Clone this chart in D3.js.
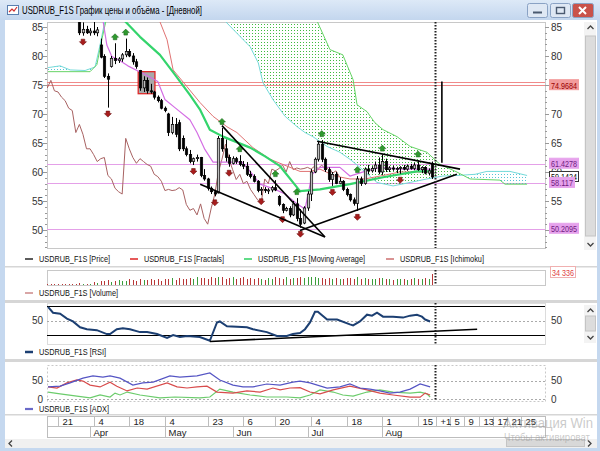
<!DOCTYPE html>
<html>
<head>
<meta charset="utf-8">
<style>
body { margin: 0; background: #fff; }
svg { display: block; font-family: "Liberation Sans", Arial, sans-serif; }
</style>
<script src="https://cdn.jsdelivr.net/npm/d3@7"></script>
</head>
<body>
<svg width="600" height="451"></svg>
<script>

// ---- data (bar index 0 = 14 Mar 2022, daily trading bars) ----
var firstBar = 11;
var ohlc = [
  [86.0,87.0,83.6,84.0],[84.0,85.8,83.5,84.6],[84.6,85.2,83.8,84.0],[84.0,84.8,83.5,84.3],[84.3,86.5,83.6,84.0],
  [84.0,85.0,83.4,84.5],[81.9,83.0,79.6,79.8],[79.9,80.3,76.2,76.5],[76.5,77.0,71.1,76.0],[78.2,80.0,78.0,79.6],
  [79.6,82.2,78.6,79.2],[79.2,79.8,78.8,79.5],[79.5,80.5,79.0,80.2],[80.2,83.0,79.8,80.8],[80.8,81.2,79.8,80.0],
  [80.0,80.5,78.5,79.0],[79.0,79.5,77.8,78.2],[77.5,77.6,74.0,74.5],[74.5,76.5,73.8,75.8],[75.8,76.3,73.5,74.0],
  [74.0,75.2,73.5,73.8],[73.8,74.0,72.5,72.9],[72.9,73.2,72.0,72.3],[72.3,72.6,70.8,71.0],[71.0,71.3,70.3,70.6],
  [70.0,70.2,66.2,66.8],[66.8,69.5,66.5,68.2],[68.2,69.3,66.0,66.5],[68.5,69.0,63.6,64.0],[65.8,66.3,63.6,64.0],
  [64.0,64.4,62.7,63.0],[63.0,63.8,61.5,61.8],[61.8,62.5,61.2,62.3],[62.3,63.0,61.8,62.5],[62.5,62.6,59.1,59.4],
  [59.4,60.5,58.5,58.8],[58.8,59.0,56.8,57.2],[57.2,57.5,56.2,56.6],[56.6,56.9,55.8,56.2],[56.4,66.2,56.3,65.8],
  [65.8,67.6,63.5,64.0],[64.0,65.6,61.8,62.5],[62.5,63.0,60.9,61.5],[61.5,62.7,61.3,62.3],[62.3,62.6,61.4,61.8],
  [61.8,62.9,61.0,61.3],[61.3,61.9,60.5,61.0],[61.0,61.7,59.3,59.6],[59.6,60.2,58.9,59.2],[59.2,59.6,58.2,58.4],
  [58.4,58.6,56.5,56.8],[56.8,57.4,56.0,57.0],[57.0,57.4,56.4,56.8],[56.8,57.2,56.2,56.9],[56.9,57.6,56.5,57.3],
  [57.3,58.6,56.7,56.9],[55.8,56.0,54.1,54.4],[54.4,54.6,52.9,53.4],[53.4,54.0,53.2,53.7],[53.7,54.1,52.2,52.6],
  [52.6,55.0,52.4,54.5],[54.5,55.5,51.5,52.0],[52.0,53.6,50.4,51.0],[51.2,54.1,51.0,53.8],[53.8,56.7,53.3,56.2],
  [56.2,60.5,55.0,60.0],[60.0,62.5,59.8,62.2],[62.2,65.3,61.8,64.8],[64.8,65.5,61.7,62.2],[62.2,62.5,60.0,60.4],
  [60.4,60.8,58.3,58.7],[58.7,60.0,57.6,59.6],[59.6,60.0,57.9,58.0],[58.0,59.1,57.9,58.4],[58.4,58.6,56.7,57.0],
  [57.0,57.3,55.8,56.1],[56.1,56.3,54.9,55.2],[55.2,55.6,54.2,54.6],[54.6,59.3,53.3,58.8],[58.8,59.2,57.6,58.0],
  [58.0,60.8,57.8,60.5],[60.5,61.2,59.6,60.2],[60.2,61.0,59.9,60.6],[60.6,61.8,60.0,61.2],[61.2,62.5,59.6,60.0],
  [60.0,63.0,59.5,61.8],[61.8,62.3,60.0,60.4],[60.4,61.0,60.0,60.7],[60.7,61.1,60.2,60.5],[60.5,60.9,59.8,60.6],
  [60.6,61.0,59.7,60.8],[60.8,61.2,60.3,60.5],[60.5,61.3,60.2,61.0],[61.0,61.4,60.4,60.6],[60.6,61.6,60.3,61.2],
  [61.2,62.0,60.2,60.4],[60.4,61.0,59.8,60.8],[60.8,61.0,59.6,59.8],[59.8,60.6,59.4,60.2],[61.4,61.8,58.8,59.14]
];
var fractalUp = [21, 24, 51, 56, 66, 72, 79, 89, 96, 106];
var fractalDown = [12, 19, 43, 49, 53, 62, 68, 73, 82, 89, 101];

var maLine = [[23.8,86.0],[28,83.3],[33.6,80.2],[37.8,76.8],[42,73.3],[44.8,70.8],[47.6,67.3],[51.3,66.1],
  [58.9,64.2],[63.1,62.7],[67.3,61.0],[72.9,56.7],[78.5,57.0],[86.9,57.9],[96.2,59.1],[105.7,60.1],[110,60.1]];
var tenkan = [[17.6,86.2],[18.7,81.9],[20.1,79.9],[22.4,79.2],[24.6,78.3],[29.4,76.8],[33,75.6],[35,72.5],
  [37.8,71.1],[42,69.0],[44,66.8],[46.2,63.9],[48.5,61.7],[56.6,61.7],[58.9,60.1],[61.7,57.9],[65.9,57.0],
  [68.7,56.2],[72.1,54.5],[74.3,53.6],[76.3,59.6],[78.5,60.8],[84.1,60.8],[86.9,59.3],[91.1,60.1],[95.3,60.8],
  [100.9,60.5],[110,60.5]];
var kijun = [[31,88.5],[33.6,85.9],[35.6,82.8],[37.3,77.6],[41.2,74.7],[44.8,72.0],[48.5,69.6],[52.4,67.8],
  [55.2,66.8],[59.7,64.2],[64.5,62.2],[68.1,61.3],[72.9,60.1],[75.7,60.1],[78.5,60.5],[82.7,59.3],[86.9,58.8],
  [91.1,58.8],[96.2,59.4],[100.9,60.0],[110,60.0]];
var senkouA = [[2.2,77.3],[14,77.3],[15.9,78.5],[17.3,82.8],[18.5,86.2],[22,92],[70,92],[77.7,86.0],[81.3,81.1],
  [84.9,80.2],[87.8,75.9],[88.9,71.6],[91.7,70.4],[93.9,68.5],[96.2,67.3],[100.1,66.1],[103.8,64.4],[108.5,63.4],
  [112.2,61.3],[116.9,60.0],[120.6,58.8],[129,58.6],[130.4,57.9],[136.6,57.9]];
var senkouB = [[2.2,78.0],[5.6,78.3],[8.4,77.6],[12.6,77.5],[15.4,78.1],[16.8,81.9],[18.2,86.2],[20,90],[48,90],
  [51.9,86.0],[58.9,81.6],[61.2,78.8],[62.5,75.4],[65.3,72.5],[68.7,69.6],[72.1,67.8],[74.3,66.8],[76.5,66.1],
  [80.5,64.4],[84.1,63.4],[86.9,62.2],[89.7,60.8],[94.5,58.2],[99,57.6],[103.8,58.2],[108.5,58.8],[113,59.3],
  [116.9,59.4],[122,59.6],[125.3,60.1],[131.8,60.1],[136.6,59.4]];

var volFirst = 2;
var volume = [2100,1800,2400,1900,2200,2600,1700,2300,3000,
  6500,3100,4200,3300,9400,4800,11200,13500,15100,10600,
  12400,16200,11800,14000,17500,15200,12900,18400,16800,14100,
  19200,15500,17800,13200,20100,18700,21300,16400,22800,19600,
  17200,21900,18500,24000,20300,22600,19100,25100,21400,26300,
  23800,19700,22400,24900,18600,21700,25400,20200,23100,19400,
  22900,17600,16300,20800,18200,23500,21000,19800,24200,17900,
  20600,22300,25800,21100,23900,26200,24400,20700,22000,19300,
  21800,18400,20900,17700,19600,22500,20300,18100,23700,19000,
  21200,17400,19900,18600,20400,22100,17900,19200,16800,18500,
  17300,19800,16600,18900,20700,17500,19400,21600,18200,34336];

var rsi = [[2.2,68.7],[3.6,60.7],[5.6,59.3],[7.5,52.7],[9.2,48.7],[11.2,40.7],[13.1,38],[15.9,36.7],[18.7,31.3],
  [19.6,31.3],[21.5,38],[23.2,39.3],[25.2,38],[28,34],[30,34],[32.8,31.3],[35.6,26],[37.3,30],[39.2,27.3],
  [41.2,28.7],[44.8,27.3],[47.6,22],[49.6,47.3],[50.4,48.7],[52.4,42],[58,40.7],[59.7,38],[63.6,34],[66.4,28.7],
  [69.2,28.7],[70.9,31.3],[72.9,32.7],[74.3,38],[75.7,47.3],[77.1,62],[77.9,62],[80.5,51.3],[83.3,51.3],
  [86.9,44.7],[87.8,43.3],[89.7,48.7],[91.7,58],[93.1,56.7],[94.5,60.7],[96.2,55.3],[99,55.3],[101.8,54],
  [103.8,56.7],[105.7,58],[107.1,55.3],[108,51.3],[109.4,48.7]];
var rsiTrend = [[47.6,21],[122.6,38]];

var adx = [[2.2,33],[5.6,35],[8.4,44],[12,57],[14.8,63],[17.6,60],[19.6,63],[22.4,57],[26,38],[28.8,44],[31.7,46],
  [36.4,63],[39.2,60],[44,63],[47.6,71],[50.4,52],[54.1,38],[56.9,33],[59.7,33],[63.6,41],[67.3,38],[70.9,46],
  [72.9,49],[75.7,44],[80.5,30],[84.1,33],[86.9,41],[89.7,30],[92.5,27],[95.3,22],[98.1,16],[100.9,19],[103.8,27],
  [106.6,41],[109.4,33]];
var diMinus = [[2.2,33],[4.7,30],[7.5,44],[10.3,52],[12,49],[14,38],[16.8,33],[19.6,46],[21.5,35],[24.4,22],[27.2,30],
  [30,27],[35.6,44],[38.4,33],[41.2,30],[44,33],[46.8,35],[49.6,19],[54.1,16],[58,22],[61.7,19],[65.3,30],[67.3,25],
  [70.1,30],[72.9,31],[75.7,19],[78.5,14],[82.2,25],[86.9,35],[91.7,25],[95.3,16],[99,11],[103.8,5],[106.6,5],
  [108,16],[109.4,11]];
var diPlus = [[2.2,19],[5.6,14],[10.3,8],[14,3],[16.8,11],[19.6,5.5],[21,16],[22.4,11],[24.4,19],[28,11],[33.6,3],
  [37.8,5.5],[44.8,3],[47.6,5.5],[50.4,27],[54.1,19],[58.9,11],[63.6,5.5],[69.2,5.5],[72.9,3],[75.7,11],[78.5,25],
  [82.2,19],[84.9,11],[87.8,8],[91.7,19],[95.3,25],[99,19],[103.8,16],[106.6,19],[108.5,14],[109.4,5.5]];

var levelsRed = [75.6, 74.9684];
var levelsMag = [61.4278, 58.117, 50.2095];
var trendLines = [
  [[51, 68.0], [79.9, 48.8]],
  [[44.9, 57.9], [79.9, 48.8]],
  [[77.7, 65.3], [117.8, 60.5]],
  [[72.9, 49.9], [116.9, 59.6]]
];
var markLine = [[112.7, 75.6], [112.7, 61.6]];
var selBox = [[27.5, 77.3], [32.2, 73.5]];

var priceTicksLeft = [85, 80, 75, 70, 65, 60, 55, 50];
var priceTicksRight = [85, 80, 70, 65, 60, 55];
var lastPrice = 59.1424;
var lastVolumeText = "34 336";
var nowIndex = 110.8;

var dayTicks = [[5,"21"],[15,"4"],[25,"18"],[35,"4"],[47,"23"],[57,"6"],[66,"20"],[76,"4"],[86,"18"],[96,"1"],[106,"15"]];
var futureTicks = [[111,"+1"],[115,"5"],[119,"9"],[123,"13"],[127,"17"],[131,"21"],[135,"25"]];
var monthTicks = [[14,"Apr"],[35,"May"],[54,"Jun"],[75,"Jul"],[96,"Aug"]];

// ---- layout ----
var svg = d3.select("svg"),
    L = 47, R = 545,
    pTop = 22, pBot = 248,
    vTop = 270, vBot = 285,
    rTop = 303, rBot = 344,
    aTop = 365, aBot = 401;

var x = d3.scaleLinear().domain([5, 106]).range([58, 418]);
var y = d3.scaleLinear().domain([85, 50]).range([27, 230]);
var yv = d3.scaleLinear().domain([0, 46800]).range([vBot, vTop]);
var yr = d3.scaleLinear().domain([70, 30]).range([306, 335]);
var ya = d3.scaleLinear().domain([50, 0]).range([380.7, 399]);

var defs = svg.append("defs");
function clip(id, x0, y0, w, h) {
  defs.append("clipPath").attr("id", id).append("rect")
    .attr("x", x0).attr("y", y0).attr("width", w).attr("height", h);
}
clip("cP", L, pTop, R - L, pBot - pTop);
clip("cR", L, rTop, R - L, rBot - rTop);
clip("cA", L, aTop, R - L, aBot - aTop);

function dots(id, col) {
  var p = defs.append("pattern").attr("id", id).attr("width", 3).attr("height", 3)
    .attr("patternUnits", "userSpaceOnUse");
  p.append("rect").attr("width", 1).attr("height", 1).attr("fill", col);
}
dots("dotG", "#3fbb3f");
dots("dotC", "#55c4d6");

var tg = defs.append("linearGradient").attr("id", "title").attr("x1", 0).attr("y1", 0).attr("x2", 0).attr("y2", 1);
tg.append("stop").attr("offset", 0).attr("stop-color", "#dde9f7");
tg.append("stop").attr("offset", 1).attr("stop-color", "#c3d6ee");

function txt(g, x0, y0, s, size, col, anchor, len) {
  var t = g.append("text").attr("x", x0).attr("y", y0).text(s)
    .style("font-size", size + "px").attr("fill", col || "#222")
    .attr("text-anchor", anchor || "start");
  if (len) t.attr("textLength", len).attr("lengthAdjust", "spacingAndGlyphs");
  return t;
}

// ---- window chrome ----
svg.append("rect").attr("width", 600).attr("height", 451).attr("fill", "#c5d8ef");
svg.append("rect").attr("x", 5).attr("y", 20).attr("width", 592).attr("height", 428).attr("fill", "#fff");
svg.append("rect").attr("width", 600).attr("height", 20).attr("fill", "url(#title)");
var icon = svg.append("g");
icon.append("rect").attr("x", 7.5).attr("y", 5.5).attr("width", 11).attr("height", 9).attr("fill", "#fff").attr("stroke", "#5a7fb0");
icon.append("path").attr("d", "M9,12 L12,9 L14,11 L17,7").attr("fill", "none").attr("stroke", "#d03030").attr("stroke-width", 1.2);
txt(svg, 22, 14, "USDRUB_F1S График цены и объёма - [Дневной]", 11, "#000", "start", 180);

function winBtn(x0, w, fill) {
  svg.append("rect").attr("x", x0).attr("y", 3.5).attr("width", w).attr("height", 14).attr("rx", 2)
    .attr("fill", fill).attr("stroke", "#8aa2c4");
}
winBtn(527.5, 20, "#dfe8f4");
winBtn(550.5, 20, "#dfe8f4");
winBtn(572.5, 21, "#c9524a");
svg.append("line").attr("x1", 533).attr("x2", 542).attr("y1", 12.5).attr("y2", 12.5).attr("stroke", "#4a5a70").attr("stroke-width", 2);
svg.append("rect").attr("x", 556.5).attr("y", 7.5).attr("width", 8).attr("height", 6).attr("fill", "none").attr("stroke", "#4a5a70").attr("stroke-width", 1.4);
svg.append("path").attr("d", "M579,7 L586,14 M586,7 L579,14").attr("stroke", "#fff").attr("stroke-width", 2);

// ---- price panel ----
var gp = svg.append("g");
gp.append("rect").attr("x", L + 0.5).attr("y", pTop + 0.5).attr("width", R - L).attr("height", pBot - pTop)
  .attr("fill", "#fff").attr("stroke", "#c8c8c8");
var pc = gp.append("g").attr("clip-path", "url(#cP)");

levelsRed.forEach(function(v) {
  pc.append("line").attr("x1", L).attr("x2", R).attr("y1", Math.round(y(v)) + 0.5).attr("y2", Math.round(y(v)) + 0.5)
    .attr("stroke", "#f08a8a");
});
levelsMag.forEach(function(v) {
  pc.append("line").attr("x1", L).attr("x2", R).attr("y1", Math.round(y(v)) + 0.5).attr("y2", Math.round(y(v)) + 0.5)
    .attr("stroke", "#e4a0e8");
});

// Ichimoku cloud
function valAt(s, t) {
  for (var k = 0; k < s.length - 1; k++) {
    if (t >= s[k][0] && t <= s[k + 1][0]) {
      var f = (t - s[k][0]) / (s[k + 1][0] - s[k][0]);
      return s[k][1] + f * (s[k + 1][1] - s[k][1]);
    }
  }
  return NaN;
}
var lo = Math.max(senkouA[0][0], senkouB[0][0]),
    hi = Math.min(senkouA[senkouA.length - 1][0], senkouB[senkouB.length - 1][0]);
var ts = senkouA.concat(senkouB).map(function(d) { return d[0]; })
  .filter(function(t) { return t >= lo && t <= hi; });
ts = Array.from(new Set(ts)).sort(function(a, b) { return a - b; });
var cloud = ts.map(function(t) { return {t: t, a: valAt(senkouA, t), b: valAt(senkouB, t)}; });

defs.append("clipPath").attr("id", "aboveB").append("path")
  .attr("d", d3.area().x(function(d) { return x(d.t); }).y0(0).y1(function(d) { return y(d.b); })(cloud));
defs.append("clipPath").attr("id", "belowB").append("path")
  .attr("d", d3.area().x(function(d) { return x(d.t); }).y0(function(d) { return y(d.b); }).y1(451)(cloud));
var between = d3.area().x(function(d) { return x(d.t); })
  .y0(function(d) { return y(d.b); }).y1(function(d) { return y(d.a); });
pc.append("path").attr("d", between(cloud)).attr("fill", "url(#dotG)").attr("clip-path", "url(#aboveB)");
pc.append("path").attr("d", between(cloud)).attr("fill", "url(#dotC)").attr("clip-path", "url(#belowB)");

var line = d3.line().x(function(d) { return x(d[0]); }).y(function(d) { return y(d[1]); });
function drawLine(g, data, col, w) {
  g.append("path").attr("d", line(data)).attr("fill", "none").attr("stroke", col)
    .attr("stroke-width", w).attr("stroke-linejoin", "round");
}
drawLine(pc, senkouB, "#74dada", 1);
drawLine(pc, senkouA, "#66d466", 1);

// selection box
pc.append("rect").attr("x", x(selBox[0][0])).attr("y", y(selBox[0][1]))
  .attr("width", x(selBox[1][0]) - x(selBox[0][0])).attr("height", y(selBox[1][1]) - y(selBox[0][1]))
  .attr("fill", "#a9a9a9").attr("stroke", "#e02828").attr("stroke-width", 1.3);

var bars = ohlc.map(function(d, k) { return {i: firstBar + k, o: d[0], h: d[1], l: d[2], c: d[3]}; });
var chikou = bars.map(function(b) { return [b.i - 26, b.c]; });
drawLine(pc, chikou, "#a86262", 1);
drawLine(pc, kijun, "#e07272", 1);
drawLine(pc, tenkan, "#d46ee4", 1.2);
drawLine(pc, maLine, "#34d46c", 2.2);

// candles
var cg = pc.append("g");
bars.forEach(function(b) {
  var cx = Math.round(x(b.i)) + 0.5;
  cg.append("line").attr("x1", cx).attr("x2", cx).attr("y1", y(b.h)).attr("y2", y(b.l))
    .attr("stroke", "#000").attr("stroke-width", 1);
  var top = y(Math.max(b.o, b.c)), bot = y(Math.min(b.o, b.c));
  cg.append("rect").attr("x", cx - 1.2).attr("y", top).attr("width", 2.4).attr("height", Math.max(1, bot - top))
    .attr("fill", b.c >= b.o ? "#bdbdbd" : "#000").attr("stroke", "#000").attr("stroke-width", 0.7);
});

// fractals
function barAt(i) { return bars[i - firstBar]; }
fractalUp.forEach(function(i) {
  var cx = x(i), cy = y(barAt(i).h) - 6;
  pc.append("path").attr("transform", "translate(" + cx + "," + cy + ")")
    .attr("d", "M0,-3.5 L3.5,0 L1.8,0 L1.8,2.5 L-1.8,2.5 L-1.8,0 L-3.5,0 Z")
    .attr("fill", "#2f9a2f").attr("stroke", "#1e6a1e").attr("stroke-width", 0.6);
});
fractalDown.forEach(function(i) {
  var cx = x(i), cy = y(barAt(i).l) + 6;
  pc.append("path").attr("transform", "translate(" + cx + "," + cy + ")")
    .attr("d", "M0,3.5 L3.5,0 L1.8,0 L1.8,-2.5 L-1.8,-2.5 L-1.8,0 L-3.5,0 Z")
    .attr("fill", "#a81c1c").attr("stroke", "#701010").attr("stroke-width", 0.6);
});

trendLines.forEach(function(t) { drawLine(pc, t, "#000", 1.6); });
drawLine(pc, markLine, "#000", 1.6);

// price axes
var ax = svg.append("g");
d3.range(47, 86).forEach(function(v) {
  var yy = Math.round(y(v)) + 0.5, len = v % 5 === 0 ? 4 : 2;
  ax.append("line").attr("x1", R).attr("x2", R + len).attr("y1", yy).attr("y2", yy).attr("stroke", "#999");
  ax.append("line").attr("x1", L - len).attr("x2", L).attr("y1", yy).attr("y2", yy).attr("stroke", "#999");
});
priceTicksLeft.forEach(function(v) { txt(ax, 43, y(v) + 3.5, v, 10, "#333", "end"); });
priceTicksRight.forEach(function(v) { txt(ax, 551, y(v) + 3.5, v, 10, "#333", "start"); });
function tag(v, label, fill, stroke, col, w) {
  var yy = y(v);
  ax.append("rect").attr("x", 549.5).attr("y", yy - 5.5).attr("width", w).attr("height", 10)
    .attr("fill", fill).attr("stroke", stroke);
  txt(ax, 551, yy + 3.5, label, 9.5, col, "start", w - 3);
}
tag(74.9684, "74.9684", "#f29c9c", "#f29c9c", "#9a0000", 29);
tag(61.4278, "61.4278", "#e6a2ec", "#e6a2ec", "#702080", 29);
tag(lastPrice, "59.1424", "#fff", "#333", "#000", 29);
tag(58.117, "58.117", "#e6a2ec", "#e6a2ec", "#702080", 25);
tag(50.2095, "50.2095", "#e6a2ec", "#e6a2ec", "#702080", 29);

// vertical scrollbars
function vScroll(y0, y1, t0, t1) {
  svg.append("rect").attr("x", 584).attr("y", y0).attr("width", 12).attr("height", y1 - y0).attr("fill", "#f3f3f3");
  svg.append("rect").attr("x", 585.5).attr("y", t0).attr("width", 10).attr("height", t1 - t0)
    .attr("fill", "#dcdcdc").attr("stroke", "#c4c4c4");
  svg.append("path").attr("d", "M587.5," + (y0 + 7) + " L590.5," + (y0 + 4) + " L593.5," + (y0 + 7))
    .attr("fill", "none").attr("stroke", "#444").attr("stroke-width", 1.3);
  svg.append("path").attr("d", "M587.5," + (y1 - 7) + " L590.5," + (y1 - 4) + " L593.5," + (y1 - 7))
    .attr("fill", "none").attr("stroke", "#444").attr("stroke-width", 1.3);
}
vScroll(22, 250, 36, 236);
vScroll(305, 343, 316, 331);

// ---- legends & splitters ----
function legend(yy, items) {
  items.forEach(function(it) {
    svg.append("line").attr("x1", it[0] - 14).attr("x2", it[0] - 6).attr("y1", yy - 3).attr("y2", yy - 3)
      .attr("stroke", it[1]).attr("stroke-width", it[4] || 1.6);
    txt(svg, it[0], yy, it[2], 9.5, "#111", "start", it[3]);
  });
}
legend(262, [[39, "#333", "USDRUB_F1S [Price]", 71], [144, "#e03030", "USDRUB_F1S [Fractals]", 80],
  [258, "#39d36a", "USDRUB_F1S [Moving Average]", 107], [400, "#d07878", "USDRUB_F1S [Ichimoku]", 84]]);
legend(296, [[39, "#d09090", "USDRUB_F1S [Volume]", 79]]);
legend(355, [[39, "#1c3f72", "USDRUB_F1S [RSI]", 67, 2.5]]);
legend(412, [[39, "#6a6ac8", "USDRUB_F1S [ADX]", 70, 2.2]]);

[266, 300, 359, 414].forEach(function(yy, k) {
  svg.append("rect").attr("x", 5).attr("y", yy).attr("width", 592).attr("height", k === 1 || k === 2 ? 3 : 1.5)
    .attr("fill", "#d6d6d6");
});

// ---- volume panel ----
svg.append("rect").attr("x", L + 0.5).attr("y", vTop + 0.5).attr("width", R - L).attr("height", vBot - vTop)
  .attr("fill", "#fff").attr("stroke", "#c8c8c8");
var vg = svg.append("g").attr("shape-rendering", "crispEdges");
volume.forEach(function(v, k) {
  var i = volFirst + k, b = i >= firstBar ? barAt(i) : null;
  var col = b && b.c >= b.o ? "#3c9e3c" : "#b83838";
  vg.append("rect").attr("x", Math.round(x(i))).attr("y", yv(v)).attr("width", 1).attr("height", yv(0) - yv(v))
    .attr("fill", col);
});
svg.append("rect").attr("x", 550.5).attr("y", 266.5).attr("width", 25).attr("height", 11)
  .attr("fill", "#fff").attr("stroke", "#f0b0b0");
txt(svg, 552, 275.5, lastVolumeText, 9.5, "#e04040", "start", 22);

// ---- RSI panel ----
svg.append("rect").attr("x", L + 0.5).attr("y", rTop + 0.5).attr("width", R - L).attr("height", rBot - rTop)
  .attr("fill", "#fff").attr("stroke", "#dcdcdc");
var rg = svg.append("g").attr("clip-path", "url(#cR)");
[70, 30].forEach(function(v) {
  rg.append("line").attr("x1", L).attr("x2", R).attr("y1", Math.round(yr(v)) + 0.5).attr("y2", Math.round(yr(v)) + 0.5)
    .attr("stroke", "#000");
});
rg.append("line").attr("x1", L).attr("x2", R).attr("y1", Math.round(yr(50)) + 0.5).attr("y2", Math.round(yr(50)) + 0.5)
  .attr("stroke", "#aaa").attr("stroke-dasharray", "2,2");
var lineR = d3.line().x(function(d) { return x(d[0]); }).y(function(d) { return yr(d[1]); });
rg.append("path").attr("d", lineR(rsi)).attr("fill", "none").attr("stroke", "#1c3f72").attr("stroke-width", 2);
rg.append("path").attr("d", lineR(rsiTrend)).attr("fill", "none").attr("stroke", "#000").attr("stroke-width", 1.6);
txt(svg, 43, yr(50) + 3.5, "50", 10, "#333", "end");
txt(svg, 551, yr(50) + 3.5, "50", 10, "#333", "start");

// ---- ADX panel ----
svg.append("rect").attr("x", L + 0.5).attr("y", aTop + 0.5).attr("width", R - L).attr("height", aBot - aTop)
  .attr("fill", "#fff").attr("stroke", "#c8c8c8").attr("stroke-dasharray", "2,2");
var ag = svg.append("g").attr("clip-path", "url(#cA)");
[50, 0].forEach(function(v) {
  ag.append("line").attr("x1", L).attr("x2", R).attr("y1", Math.round(ya(v)) + 0.5).attr("y2", Math.round(ya(v)) + 0.5)
    .attr("stroke", "#aaa").attr("stroke-dasharray", "2,2");
});
var lineA = d3.line().x(function(d) { return x(d[0]); }).y(function(d) { return ya(d[1]); });
[[diPlus, "#6ccc6c"], [diMinus, "#d84c4c"], [adx, "#5555c4"]].forEach(function(s) {
  ag.append("path").attr("d", lineA(s[0])).attr("fill", "none").attr("stroke", s[1]).attr("stroke-width", 1.2);
});
[50, 0].forEach(function(v) {
  txt(svg, 43, ya(v) + 3.5, v, 10, "#333", "end");
  txt(svg, 551, ya(v) + 3.5, v, 10, "#333", "start");
});

// ---- "now" dotted line through all panels ----
var nx = Math.round(x(nowIndex)) + 0.5;
[[pTop, pBot], [vTop, vBot], [rTop, rBot], [aTop, aBot]].forEach(function(r) {
  svg.append("line").attr("x1", nx).attr("x2", nx).attr("y1", r[0]).attr("y2", r[1])
    .attr("stroke", "#222").attr("stroke-width", 2).attr("stroke-dasharray", "1.5,1.5");
});

// ---- date axis ----
var dg = svg.append("g").attr("shape-rendering", "crispEdges");
dg.append("rect").attr("x", L + 0.5).attr("y", 416.5).attr("width", R - L).attr("height", 21)
  .attr("fill", "#fff").attr("stroke", "#bdbdbd");
dg.append("line").attr("x1", L).attr("x2", R).attr("y1", 426.5).attr("y2", 426.5).attr("stroke", "#bdbdbd");
dayTicks.concat(futureTicks).forEach(function(d) {
  var xx = Math.round(x(d[0])) + 0.5;
  dg.append("line").attr("x1", xx).attr("x2", xx).attr("y1", 416).attr("y2", 426).attr("stroke", "#bdbdbd");
  txt(svg, xx + 4, 425, d[1], 9.5, "#222");
});
monthTicks.forEach(function(d) {
  var xx = Math.round(x(d[0])) + 0.5;
  dg.append("line").attr("x1", xx).attr("x2", xx).attr("y1", 426).attr("y2", 437).attr("stroke", "#bdbdbd");
  txt(svg, xx + 3, 435.5, d[1], 9.5, "#222");
});

// horizontal scrollbar
svg.append("rect").attr("x", 5).attr("y", 439).attr("width", 592).attr("height", 9).attr("fill", "#f0f0f0");
svg.append("rect").attr("x", 506.5).attr("y", 439.5).attr("width", 78).attr("height", 7)
  .attr("fill", "#d8d8d8").attr("stroke", "#c4c4c4");
svg.append("path").attr("d", "M12,440.5 L9,443.5 L12,446.5").attr("fill", "none").attr("stroke", "#444").attr("stroke-width", 1.3);
svg.append("path").attr("d", "M588,440.5 L591,443.5 L588,446.5").attr("fill", "none").attr("stroke", "#444").attr("stroke-width", 1.3);

// activation watermark of the screenshot (cut by the window edge)
txt(svg, 503, 428, "Активация Win", 14, "rgba(150,150,150,0.5)", "start", 90);
txt(svg, 504, 441, "Чтобы активироват", 10, "rgba(150,150,150,0.5)", "start", 86);

</script>
</body>
</html>
